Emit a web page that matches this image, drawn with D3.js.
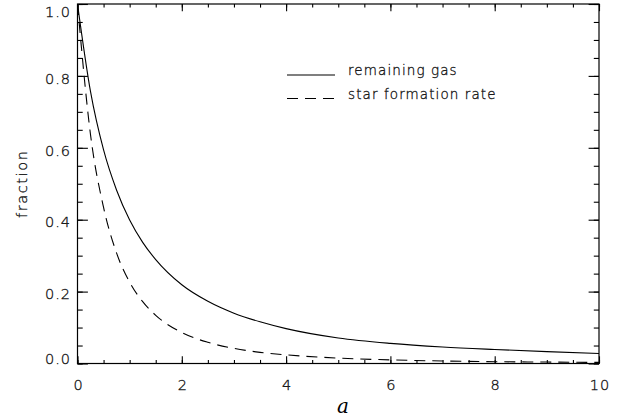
<!DOCTYPE html>
<html>
<head>
<meta charset="utf-8">
<script src="https://cdn.jsdelivr.net/npm/d3@7"></script>
<style>
  html, body { margin: 0; padding: 0; background: #fff; }
  svg { display: block; }
  text { font-family: "DejaVu Sans", sans-serif; font-weight: 200; fill: #000; }
</style>
</head>
<body>
<svg id="chart" width="621" height="420"></svg>
<script>
// ---- data ----
const aValues   = [0, 0.25, 0.5, 0.75, 1.0, 1.25, 1.5, 2.0, 2.5, 3.0, 3.5, 4.0, 5.0, 6.0, 7.0, 8.0, 9.0, 10.0];
const gasValues = [1.0, 0.756, 0.594, 0.482, 0.399, 0.337, 0.289, 0.219, 0.173, 0.140, 0.116, 0.097, 0.071, 0.056, 0.046, 0.039, 0.033, 0.028];
const sfrValues = [1.0, 0.636, 0.434, 0.307, 0.226, 0.172, 0.134, 0.086, 0.059, 0.042, 0.031, 0.024, 0.015, 0.010, 0.007, 0.005, 0.004, 0.003];
const xTickValues = [0, 2, 4, 6, 8, 10];
const yTickValues = [0.0, 0.2, 0.4, 0.6, 0.8, 1.0];
const seriesNames = ["remaining gas", "star formation rate"];
const xLabel = "a";
const yLabel = "fraction";

// ---- layout ----
const svg = d3.select("#chart");
const pL = 77.5, pR = 599, pT = 4, pB = 363.5;
const x = d3.scaleLinear().domain([0, 10]).range([pL, pR]);
const y = d3.scaleLinear().domain([0, 1]).range([pB, pT]);
const xMinor = d3.range(0, 10.001, 0.5);
const yMinor = d3.range(0, 1.0001, 0.05);
const xMajLen = 7.2, yMajLen = 10.4;
const ink = "#000";
const textInk = "#1a1a1a";
const fontSize = 14.5;

svg.append("defs").append("clipPath").attr("id", "plotclip")
  .append("rect").attr("x", pL).attr("y", pT).attr("width", pR - pL).attr("height", pB - pT);

// frame
svg.append("rect").attr("x", pL).attr("y", pT).attr("width", pR - pL).attr("height", pB - pT)
  .attr("fill", "none").attr("stroke", ink).attr("stroke-width", 1.2);

// major ticks, all four sides (inward)
svg.append("g").attr("class", "xax").attr("transform", `translate(0,${pB})`)
  .call(d3.axisBottom(x).tickValues(xTickValues).tickFormat(d3.format("d")).tickSize(-xMajLen).tickPadding(16.5));
svg.append("g").attr("transform", `translate(0,${pT})`)
  .call(d3.axisTop(x).tickValues(xTickValues).tickFormat("").tickSize(-xMajLen));
const gL = svg.append("g").attr("class", "yax").attr("transform", `translate(${pL},0)`)
  .call(d3.axisLeft(y).tickValues(yTickValues).tickFormat(d3.format(".1f")).tickSize(-yMajLen).tickPadding(6.5));
svg.append("g").attr("transform", `translate(${pR},0)`)
  .call(d3.axisRight(y).tickValues(yTickValues).tickFormat("").tickSize(-yMajLen));

// minor ticks
svg.append("g").attr("transform", `translate(0,${pB})`)
  .call(d3.axisBottom(x).tickValues(xMinor).tickFormat("").tickSize(-xMajLen / 2));
svg.append("g").attr("transform", `translate(0,${pT})`)
  .call(d3.axisTop(x).tickValues(xMinor).tickFormat("").tickSize(-xMajLen / 2));
svg.append("g").attr("transform", `translate(${pL},0)`)
  .call(d3.axisLeft(y).tickValues(yMinor).tickFormat("").tickSize(-yMajLen / 2));
svg.append("g").attr("transform", `translate(${pR},0)`)
  .call(d3.axisRight(y).tickValues(yMinor).tickFormat("").tickSize(-yMajLen / 2));

svg.selectAll(".domain").remove();
svg.selectAll(".tick line").attr("stroke", ink).attr("stroke-width", 1.1);
svg.selectAll(".tick text").attr("font-size", fontSize).attr("letter-spacing", 1)
  .style("font-family", '"DejaVu Sans", sans-serif').style("font-weight", 200)
  .attr("fill", textInk).attr("stroke", textInk).attr("stroke-width", 0.3);
svg.selectAll(".xax .tick text").attr("dx", "0.5");
// y labels: centred slightly below tick, kept inside the frame's vertical span
gL.selectAll(".tick text").each(function(d) {
  const centre = Math.max(pT + 7.7, Math.min(pB - 5, y(d) + 2));
  d3.select(this).attr("y", centre - y(d)).attr("dy", "0.36em");
});

// curves
const line = d3.line().x(d => x(d[0])).y(d => y(d[1])).curve(d3.curveMonotoneX);
const gasData = aValues.map((a, i) => [a, gasValues[i]]);
const sfrData = aValues.map((a, i) => [a, sfrValues[i]]);
const curves = svg.append("g").attr("clip-path", "url(#plotclip)");
curves.append("path").datum(gasData).attr("d", line)
  .attr("fill", "none").attr("stroke", ink).attr("stroke-width", 1.1);
curves.append("path").datum(sfrData).attr("d", line)
  .attr("fill", "none").attr("stroke", ink).attr("stroke-width", 1.1).attr("stroke-dasharray", "11,7");

// legend
const legY = [75, 98.5];
const legDash = [null, "11,7"];
seriesNames.forEach((name, i) => {
  svg.append("line").attr("x1", 287).attr("x2", 335).attr("y1", legY[i]).attr("y2", legY[i])
    .attr("stroke", ink).attr("stroke-width", 1.1).attr("stroke-dasharray", legDash[i]);
  svg.append("text").attr("x", 348).attr("y", legY[i])
    .attr("font-size", 13.5).attr("letter-spacing", 1.1)
    .attr("fill", textInk).attr("stroke", textInk).attr("stroke-width", 0.3).text(name);
});

// axis labels
svg.append("text").attr("x", 343).attr("y", 413).attr("text-anchor", "middle")
  .attr("font-size", 20).style("font-family", '"DejaVu Serif", serif').style("font-style", "italic")
  .style("font-weight", "normal").attr("fill", textInk).text(xLabel);
svg.append("text").attr("transform", `translate(27,${(pT + pB) / 2}) rotate(-90)`)
  .attr("text-anchor", "middle").attr("font-size", fontSize).attr("letter-spacing", 1.6)
  .attr("fill", textInk).attr("stroke", textInk).attr("stroke-width", 0.3).text(yLabel);
</script>
</body>
</html>
